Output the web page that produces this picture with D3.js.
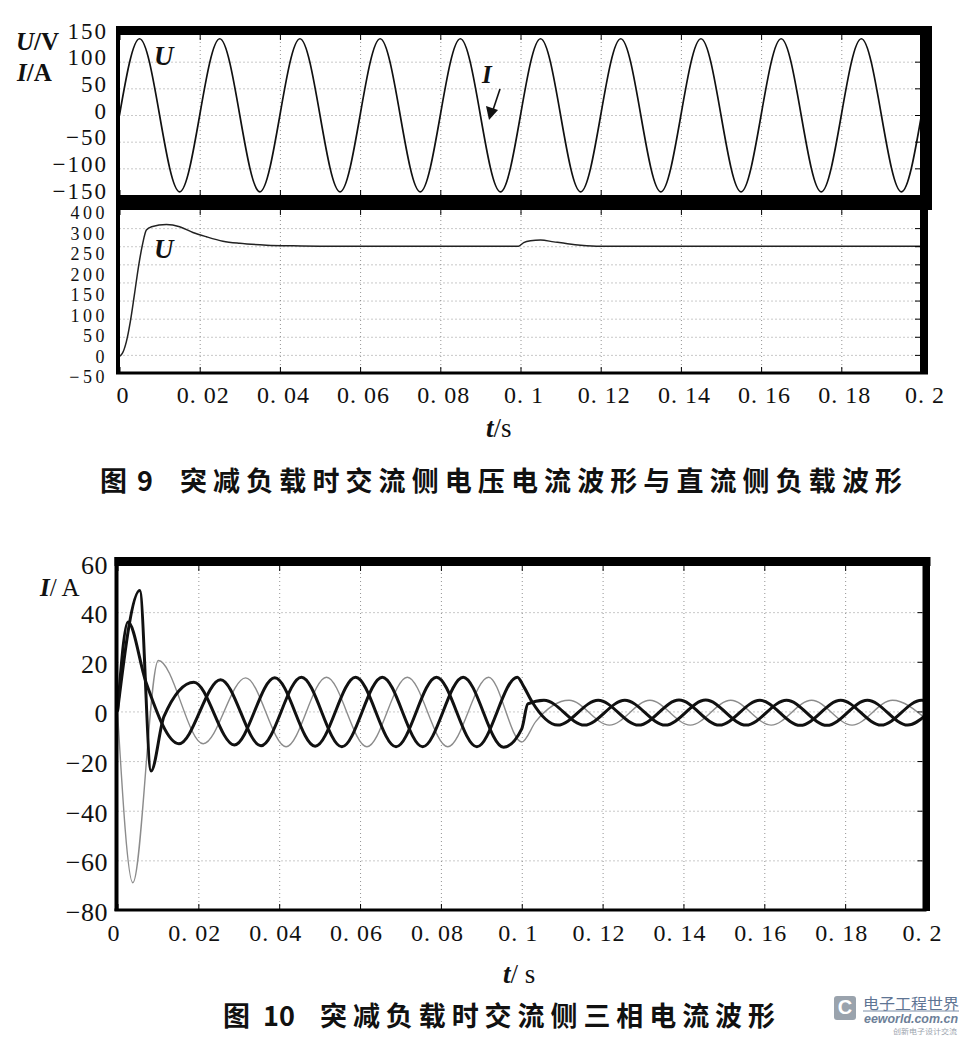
<!DOCTYPE html>
<html>
<head>
<meta charset="utf-8">
<script src="https://cdn.jsdelivr.net/npm/d3@7"></script>
<style>
  body { margin: 0; background: #fff; }
  svg text { font-family: "Liberation Serif", "Times New Roman", serif; fill: #111; }
  .grid line { stroke: #777; stroke-width: 0.8; stroke-dasharray: 1 3; }
  .grid .domain { display: none; }
  .cap { font-family: "Noto Sans CJK SC", sans-serif; font-weight: bold; }
</style>
</head>
<body>
<div id="chart"></div>
<script>
// ---- data ----
// time axis (both figures)
const xTicks = [0, 0.02, 0.04, 0.06, 0.08, 0.1, 0.12, 0.14, 0.16, 0.18, 0.2];
const xTickLabels = ["0", "0. 02", "0. 04", "0. 06", "0. 08", "0. 1", "0. 12", "0. 14", "0. 16", "0. 18", "0. 2"];

// Fig 9 top: AC side U / I (curves overlap), extrema only
const acT = [0, 0.005, 0.015, 0.025, 0.035, 0.045, 0.055, 0.065, 0.075, 0.085, 0.095,
             0.105, 0.115, 0.125, 0.135, 0.145, 0.155, 0.165, 0.175, 0.185, 0.195, 0.2];
const acU = [0, 143, -144, 143, -144, 143, -144, 143, -144, 143, -144,
             143, -144, 143, -144, 143, -144, 143, -144, 143, -144, 0];
const topTicks = [150, 100, 50, 0, -50, -100, -150];
const topTickLabels = ["150", "100", "50", "0", "\u221250", "\u2212100", "\u2212150"];

// Fig 9 bottom: DC side voltage
const dcT = [0, 0.0007, 0.0017, 0.0027, 0.0037, 0.0048, 0.0057, 0.0067, 0.008, 0.0117, 0.015,
             0.0183, 0.0217, 0.0258, 0.03, 0.0367, 0.0433, 0.05, 0.0995, 0.1008, 0.1025, 0.105,
             0.1083, 0.1117, 0.115, 0.12, 0.125, 0.2];
const dcU = [-4, 4, 36, 92, 165, 248, 303, 345, 354, 360, 354,
             338, 326, 314, 308, 303, 301, 300, 300, 310, 315, 317,
             312, 307, 303, 300, 300, 300];
const dcGrid = [-50, 0, 50, 100, 150, 200, 250, 300, 350, 400];
const dcTickLabels = ["400", "300", "250", "200", "150", "100", "50", "0", "\u221250"];

// Fig 10: three phase currents (two thick, one thin grey)
const iaT = [0, 0.0055, 0.0083, 0.0115, 0.0189, 0.0289, 0.0389, 0.0489, 0.0589, 0.0689, 0.0789, 0.0889, 0.0989,
             0.1005, 0.1025, 0.1089, 0.1189, 0.1289, 0.1389, 0.1489, 0.1589, 0.1689, 0.1789, 0.1889, 0.1989, 0.2];
const iaI = [0, 48.7, -24, -2, 11.8, -13.5, 13.6, -14, 13.8, -14.2, 13.8, -14.2, 13.8,
             10, 4, -5.5, 4.5, -5.5, 4.6, -5.5, 4.5, -5.6, 4.5, -5.5, 4.5, 4.4];
const ibT = [0, 0.0026, 0.007, 0.0152, 0.0255, 0.0355, 0.0455, 0.0555, 0.0655, 0.0755, 0.0855, 0.0955,
             0.1, 0.1015, 0.1055, 0.1155, 0.1255, 0.1355, 0.1455, 0.1555, 0.1655, 0.1755, 0.1855, 0.1955, 0.2];
const ibI = [0, 36, 12, -13, 12.8, -13.8, 13.8, -14.2, 13.8, -14.2, 13.8, -14.4,
             -7, 3, 4.5, -5.5, 4.5, -5.5, 4.6, -5.5, 4.5, -5.6, 4.5, -5.5, -1.5];
const icT = [0, 0.0038, 0.0101, 0.0212, 0.0317, 0.0417, 0.0517, 0.0617, 0.0717, 0.0817, 0.0918,
             0.1, 0.1035, 0.1117, 0.1217, 0.1317, 0.1417, 0.1517, 0.1617, 0.1717, 0.1817, 0.1917, 0.2];
const icI = [0, -69, 20.5, -13, 13.5, -14.2, 13.8, -14.2, 13.8, -14.2, 13.8,
             -12.3, -4, 4.5, -5.5, 4.5, -5.5, 4.5, -5.5, 4.5, -5.5, 4.5, -3];
const iTicks = [60, 40, 20, 0, -20, -40, -60, -80];
const iTickLabels = ["60", "40", "20", "0", "\u221220", "\u221240", "\u221260", "\u221280"];

const W = 961, H = 1044;
const svg = d3.select("#chart").append("svg")
  .attr("width", W).attr("height", H)
  .style("background", "#fff");

// ---- scales ----
const x9 = d3.scaleLinear().domain([0, 0.2]).range([119.5, 921.5]);
const yTop = d3.scaleLinear().domain([-150, 150]).range([195, 35]);
const yDc = d3.scaleLinear().domain([-50, 400]).range([373, 210]);
const yDcLabel = d3.scalePoint().domain(dcTickLabels).range([212.5, 376.5]);
const x10 = d3.scaleLinear().domain([0, 0.2]).range([117.5, 926]);
const y10 = d3.scaleLinear().domain([-80, 60]).range([910, 562.5]);

// helper: dotted grid
function grid(g, xs, ys, x0, x1, y0, y1, yVals) {
  g.append("g").attr("class", "grid")
    .attr("transform", `translate(0,${y1})`)
    .call(d3.axisBottom(xs).tickValues(xTicks.slice(1, -1)).tickSize(-(y1 - y0)).tickFormat(""));
  g.append("g").attr("class", "grid")
    .attr("transform", `translate(${x0},0)`)
    .call(d3.axisLeft(ys).tickValues(yVals).tickSize(-(x1 - x0)).tickFormat(""));
}

// helper: inward tick marks
function innerTicks(g, xs, ys, x1, yTopEdge, yBottomEdge, yVals) {
  g.append("g").attr("transform", `translate(0,${yTopEdge})`)
    .call(d3.axisTop(xs).tickValues(xTicks).tickSize(-5).tickFormat(""))
    .call(a => a.select(".domain").remove());
  g.append("g").attr("transform", `translate(0,${yBottomEdge})`)
    .call(d3.axisBottom(xs).tickValues(xTicks).tickSize(-5).tickFormat(""))
    .call(a => a.select(".domain").remove());
  g.append("g").attr("transform", `translate(${x1},0)`)
    .call(d3.axisRight(ys).tickValues(yVals).tickSize(-5).tickFormat(""))
    .call(a => a.select(".domain").remove());
}

function xLabels(g, xs, yPos, dx) {
  const ax = g.append("g").attr("transform", `translate(0,${yPos})`)
    .call(d3.axisBottom(xs).tickValues(xTicks).tickSize(0).tickPadding(0)
      .tickFormat((d, i) => xTickLabels[i]));
  ax.select(".domain").remove();
  ax.attr("font-family", "Liberation Serif, serif").attr("font-size", 24);
  ax.selectAll("text").attr("dy", 0).attr("dx", dx)
    .attr("dominant-baseline", "central").style("letter-spacing", "1px");
}

// ================= Figure 9 =================
const f9 = svg.append("g");

grid(f9, x9, yTop, 119.5, 921.5, 35, 195, [100, 50, 0, -50, -100]);
grid(f9, x9, yDc, 119.5, 921.5, 210, 373, dcGrid.slice(1, -1));

const line9 = d3.line().curve(d3.curveMonotoneX);

f9.append("path")
  .attr("d", line9(d3.zip(acT, acU).map(d => [x9(d[0]), yTop(d[1])])))
  .attr("fill", "none").attr("stroke", "#111").attr("stroke-width", 1.7);

f9.append("path")
  .attr("d", line9(d3.zip(dcT, dcU).map(d => [x9(d[0]), yDc(d[1])])))
  .attr("fill", "none").attr("stroke", "#222").attr("stroke-width", 1.5);

// heavy frame pieces
f9.append("rect").attr("x", 117).attr("y", 26).attr("width", 815).attr("height", 9).attr("fill", "#000");
f9.append("rect").attr("x", 117).attr("y", 195).attr("width", 815).attr("height", 15).attr("fill", "#000");
f9.append("rect").attr("x", 920).attr("y", 26).attr("width", 12).attr("height", 184).attr("fill", "#000");
f9.append("rect").attr("x", 920).attr("y", 210).attr("width", 8).attr("height", 164).attr("fill", "#000");
f9.append("rect").attr("x", 116).attr("y", 26).attr("width", 4).attr("height", 348).attr("fill", "#000");
f9.append("rect").attr("x", 116).attr("y", 371.5).attr("width", 812).attr("height", 3).attr("fill", "#000");

innerTicks(f9, x9, yTop, 920, 35, 195, [100, 50, 0, -50, -100]);
innerTicks(f9, x9, yDc, 920, 210, 372, dcGrid.slice(1, -1));

// y tick labels
const topAx = f9.append("g").attr("transform", "translate(108,0)")
  .call(d3.axisLeft(yTop).tickValues(topTicks).tickSize(0).tickPadding(0)
    .tickFormat((d, i) => topTickLabels[i]));
topAx.select(".domain").remove();
topAx.attr("font-family", "Liberation Serif, serif").attr("font-size", 23);
topAx.selectAll("text").attr("dy", -4.5).attr("dominant-baseline", "central").style("letter-spacing", "2px");

// the printed labels of the lower panel are squeezed evenly down the axis
const dcAx = f9.append("g").attr("transform", "translate(108,0)")
  .call(d3.axisLeft(yDcLabel).tickSize(0).tickPadding(0));
dcAx.select(".domain").remove();
dcAx.attr("font-family", "Liberation Serif, serif").attr("font-size", 18);
dcAx.selectAll("text").attr("dy", 0).attr("dominant-baseline", "central").style("letter-spacing", "3.5px");

xLabels(f9, x9, 395, 3);

// axis titles and curve labels
const uv = f9.append("text").attr("x", 16).attr("y", 50).attr("font-size", 25).attr("font-weight", "bold");
uv.append("tspan").attr("font-style", "italic").text("U");
uv.append("tspan").text("/V");
const ia9 = f9.append("text").attr("x", 17).attr("y", 81).attr("font-size", 25).attr("font-weight", "bold");
ia9.append("tspan").attr("font-style", "italic").text("I");
ia9.append("tspan").text("/A");

f9.append("text").attr("x", 154).attr("y", 65).attr("font-size", 27)
  .attr("font-style", "italic").attr("font-weight", "bold").text("U");
f9.append("text").attr("x", 154).attr("y", 258).attr("font-size", 27)
  .attr("font-style", "italic").attr("font-weight", "bold").text("U");
f9.append("text").attr("x", 482).attr("y", 83).attr("font-size", 25)
  .attr("font-style", "italic").attr("font-weight", "bold").text("I");
f9.append("line").attr("x1", 500).attr("y1", 89).attr("x2", 493).attr("y2", 110)
  .attr("stroke", "#111").attr("stroke-width", 1.6);
f9.append("path").attr("d", "M486,106 L498,110 L489,120 Z").attr("fill", "#111");

const ts9 = f9.append("text").attr("x", 486).attr("y", 437).attr("font-size", 27);
ts9.append("tspan").attr("font-style", "italic").attr("font-weight", "bold").text("t");
ts9.append("tspan").text("/s");

f9.append("text").attr("class", "cap").attr("x", 100).attr("y", 479)
  .attr("dominant-baseline", "central").attr("font-size", 27).text("图");
f9.append("text").attr("class", "cap").attr("x", 137).attr("y", 479)
  .attr("dominant-baseline", "central").attr("font-size", 27).text("9");
f9.append("text").attr("class", "cap").attr("x", 180).attr("y", 479)
  .attr("dominant-baseline", "central").attr("font-size", 27)
  .attr("textLength", 722).attr("lengthAdjust", "spacing")
  .text("突减负载时交流侧电压电流波形与直流侧负载波形");

// ================= Figure 10 =================
const f10 = svg.append("g");

grid(f10, x10, y10, 117.5, 926, 562.5, 910, [40, 20, 0, -20, -40, -60]);

const line10 = d3.line().curve(d3.curveMonotoneX);
const phases = [
  { t: icT, v: icI, color: "#8c8c8c", w: 1.4 },
  { t: iaT, v: iaI, color: "#111", w: 3 },
  { t: ibT, v: ibI, color: "#111", w: 3 }
];
phases.forEach(p => {
  f10.append("path")
    .attr("d", line10(d3.zip(p.t, p.v).map(d => [x10(d[0]), y10(d[1])])))
    .attr("fill", "none").attr("stroke", p.color).attr("stroke-width", p.w)
    .attr("stroke-linejoin", "round");
});

f10.append("rect").attr("x", 114.5).attr("y", 557).attr("width", 816).attr("height", 9).attr("fill", "#000");
f10.append("rect").attr("x", 922.5).attr("y", 557).attr("width", 7.5).attr("height", 354).attr("fill", "#000");
f10.append("rect").attr("x", 114.5).attr("y", 557).attr("width", 4).attr("height", 354).attr("fill", "#000");
f10.append("rect").attr("x", 114.5).attr("y", 908.5).attr("width", 812).attr("height", 3).attr("fill", "#000");

innerTicks(f10, x10, y10, 922.5, 566, 909, [40, 20, 0, -20, -40, -60]);

const iAx = f10.append("g").attr("transform", "translate(108,0)")
  .call(d3.axisLeft(y10).tickValues(iTicks).tickSize(0).tickPadding(0)
    .tickFormat((d, i) => iTickLabels[i]));
iAx.select(".domain").remove();
iAx.attr("font-family", "Liberation Serif, serif").attr("font-size", 26);
iAx.selectAll("text").attr("dy", 2).attr("dominant-baseline", "central").style("letter-spacing", "0.5px");

xLabels(f10, x10, 933, -4);

const ia10 = f10.append("text").attr("x", 40).attr("y", 596).attr("font-size", 25);
ia10.append("tspan").attr("font-style", "italic").attr("font-weight", "bold").text("I");
ia10.append("tspan").text("/ A");

const ts10 = f10.append("text").attr("x", 503).attr("y", 983).attr("font-size", 27);
ts10.append("tspan").attr("font-style", "italic").attr("font-weight", "bold").text("t");
ts10.append("tspan").text("/ s");

f10.append("text").attr("class", "cap").attr("x", 223).attr("y", 1014)
  .attr("dominant-baseline", "central").attr("font-size", 27).text("图");
f10.append("text").attr("class", "cap").attr("x", 263).attr("y", 1014)
  .attr("dominant-baseline", "central").attr("font-size", 27).text("10");
f10.append("text").attr("class", "cap").attr("x", 320).attr("y", 1014)
  .attr("dominant-baseline", "central").attr("font-size", 27)
  .attr("textLength", 455).attr("lengthAdjust", "spacing")
  .text("突减负载时交流侧三相电流波形");

// watermark logo, bottom right
const wm = svg.append("g");
wm.append("rect").attr("x", 834).attr("y", 996).attr("width", 22).attr("height", 24)
  .attr("rx", 3).attr("fill", "#9aa3ad");
wm.append("text").attr("x", 845).attr("y", 1014).attr("text-anchor", "middle")
  .attr("font-size", 20).attr("font-weight", "bold").style("fill", "#fff")
  .style("font-family", "Liberation Sans, sans-serif").text("C");
wm.append("text").attr("x", 863).attr("y", 1009).attr("font-size", 15)
  .attr("textLength", 96).attr("lengthAdjust", "spacingAndGlyphs")
  .style("fill", "#5f7594").style("font-family", "Noto Sans CJK SC, sans-serif").text("电子工程世界");
wm.append("line").attr("x1", 863).attr("x2", 959).attr("y1", 1011).attr("y2", 1011)
  .attr("stroke", "#7d8ea6").attr("stroke-width", 1);
wm.append("text").attr("x", 864).attr("y", 1023).attr("font-size", 12.5)
  .attr("font-style", "italic").attr("font-weight", "bold")
  .attr("textLength", 94).attr("lengthAdjust", "spacingAndGlyphs")
  .style("fill", "#6d7f98").style("font-family", "Liberation Sans, sans-serif").text("eeworld.com.cn");
wm.append("text").attr("x", 893).attr("y", 1034).attr("font-size", 6.5)
  .attr("textLength", 64).attr("lengthAdjust", "spacingAndGlyphs")
  .style("fill", "#9aa3ad").style("font-family", "Noto Sans CJK SC, sans-serif").text("创新电子设计交流");
</script>
</body>
</html>
